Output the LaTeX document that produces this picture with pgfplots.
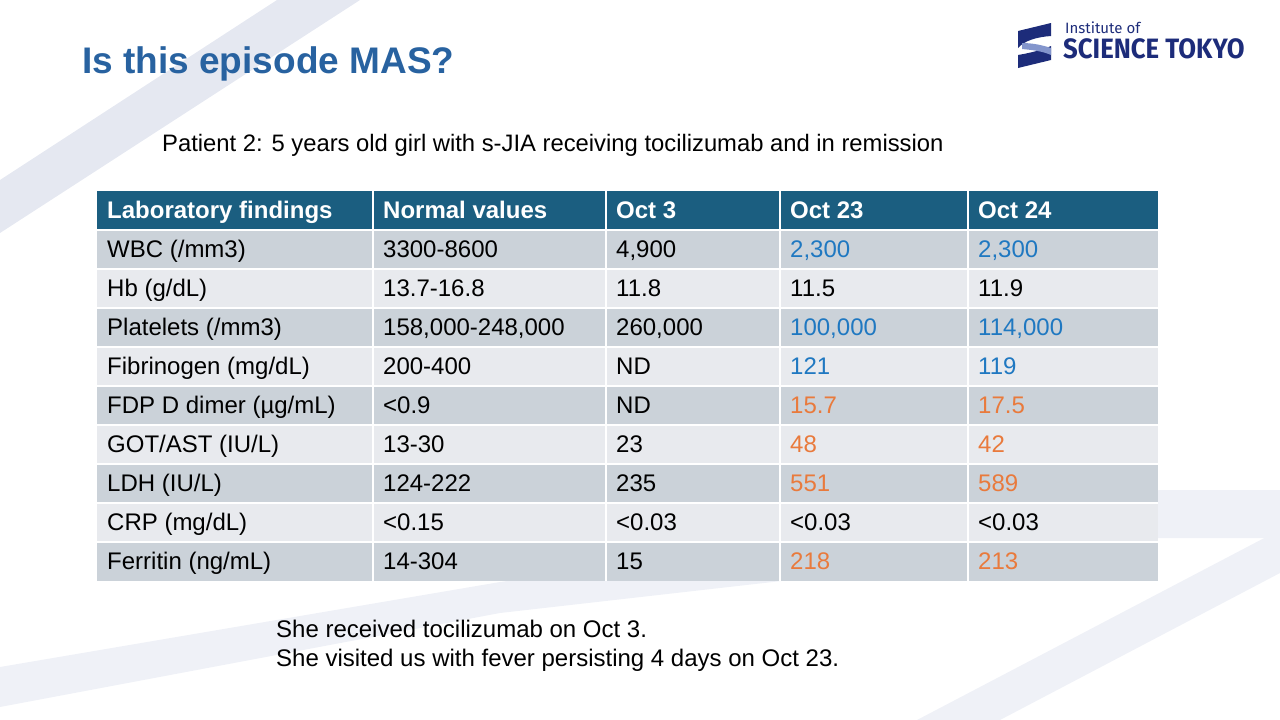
\documentclass[border=0pt]{standalone}
\usepackage{pgfplots}
\pgfplotsset{compat=1.18}
\usepackage{fontspec}
\setmainfont{Liberation Sans}
\newfontfamily\logofont{Fira Sans}
\definecolor{hdr}{HTML}{1B5E80}
\definecolor{rowdark}{HTML}{CBD2D9}
\definecolor{rowlight}{HTML}{E8EAEE}
\definecolor{valblue}{HTML}{1F78C1}
\definecolor{valorange}{HTML}{E97A3C}
\definecolor{titleblue}{HTML}{2862A0}
\definecolor{bandA}{HTML}{E5E8F1}
\definecolor{bandB}{HTML}{EFF1F7}
\definecolor{logonavy}{HTML}{1D2C7A}
\definecolor{logolight}{HTML}{8395CC}
\newcommand\tabfont{\fontsize{24}{28}\selectfont}
% #1 top y, #2 fill, #3..#7 texts, #8 colour col4, #9 colour col5
\newcommand\labrow[9]{%
  \fill[#2] (97,#1) rectangle (1158,{#1+39});
  \draw[white,line width=2pt] (97,#1) -- (1158,#1);
  \draw[white,line width=2pt] (373,#1) -- (373,{#1+39});
  \draw[white,line width=2pt] (606,#1) -- (606,{#1+39});
  \draw[white,line width=2pt] (780,#1) -- (780,{#1+39});
  \draw[white,line width=2pt] (968,#1) -- (968,{#1+39});
  \node[anchor=base west,inner sep=0pt,font=\tabfont,text=black] at (107,{#1+27.5}) {#3};
  \node[anchor=base west,inner sep=0pt,font=\tabfont,text=black] at (383,{#1+27.5}) {#4};
  \node[anchor=base west,inner sep=0pt,font=\tabfont,text=black] at (616,{#1+27.5}) {#5};
  \node[anchor=base west,inner sep=0pt,font=\tabfont,text=#8] at (790,{#1+27.5}) {#6};
  \node[anchor=base west,inner sep=0pt,font=\tabfont,text=#9] at (978,{#1+27.5}) {#7};
}
\begin{document}
\begin{tikzpicture}
\begin{axis}[width=1280pt,height=720pt,scale only axis,
  xmin=0,xmax=1280,ymin=0,ymax=720,y dir=reverse,hide axis,clip=false]
\addplot[draw=none] coordinates {(0,0) (1280,720)};
% background bands
\fill[bandA] (0,180) -- (277,0) -- (360,0) -- (0,233) -- cycle;
\fill[bandB] (0,667) -- (500,582) -- (1160,490) -- (1280,490) -- (1280,538) -- (1160,538) -- (500,613) -- (0,707) -- cycle;
\fill[bandB] (917,720) -- (1270,535) -- (1280,535) -- (1280,573) -- (1000,720) -- cycle;
% title
\node[anchor=base west,inner sep=0pt,font=\fontsize{37}{44}\selectfont\bfseries,text=titleblue] at (82,73) {Is this episode MAS?};
% logo
\fill[logonavy] (1018,31) -- (1051,23) -- (1051,36) .. controls (1036,37) and (1024,41) .. (1018,48) -- cycle;
\fill[logonavy] (1018,55) .. controls (1030,53) and (1042,50) .. (1051,46) -- (1051,60) -- (1018,68) -- cycle;
\fill[logolight] (1022,43) .. controls (1032,43) and (1042,45) .. (1051,48) -- (1051,55) .. controls (1042,51) and (1032,50) .. (1022,49) -- cycle;
\node[anchor=base west,inner sep=0pt,font=\logofont\fontsize{15}{18}\selectfont,text=logonavy] at (1065,34) {Institute of};
\node[anchor=base west,inner sep=0pt,font=\logofont\bfseries\fontsize{28}{32}\selectfont,text=logonavy,xscale=0.92] at (1063,58) {SCIENCE TOKYO};
% subtitle
\node[anchor=base west,inner sep=0pt,font=\fontsize{23.8}{28}\selectfont] at (162,151) {Patient 2: 5 years old girl with s-JIA receiving tocilizumab and in remission};
% table header
\fill[hdr] (97,191) rectangle (1158,230);
\draw[white,line width=2pt] (373,191) -- (373,230);
\draw[white,line width=2pt] (606,191) -- (606,230);
\draw[white,line width=2pt] (780,191) -- (780,230);
\draw[white,line width=2pt] (968,191) -- (968,230);
\node[anchor=base west,inner sep=0pt,font=\tabfont\bfseries,text=white] at (107,218) {Laboratory findings};
\node[anchor=base west,inner sep=0pt,font=\tabfont\bfseries,text=white] at (383,218) {Normal values};
\node[anchor=base west,inner sep=0pt,font=\tabfont\bfseries,text=white] at (616,218) {Oct 3};
\node[anchor=base west,inner sep=0pt,font=\tabfont\bfseries,text=white] at (790,218) {Oct 23};
\node[anchor=base west,inner sep=0pt,font=\tabfont\bfseries,text=white] at (978,218) {Oct 24};
% table rows
\labrow{230}{rowdark}{WBC (/mm3)}{3300-8600}{4,900}{2,300}{2,300}{valblue}{valblue}
\labrow{269}{rowlight}{Hb (g/dL)}{13.7-16.8}{11.8}{11.5}{11.9}{black}{black}
\labrow{308}{rowdark}{Platelets (/mm3)}{158,000-248,000}{260,000}{100,000}{114,000}{valblue}{valblue}
\labrow{347}{rowlight}{Fibrinogen (mg/dL)}{200-400}{ND}{121}{119}{valblue}{valblue}
\labrow{386}{rowdark}{FDP D dimer (µg/mL)}{<0.9}{ND}{15.7}{17.5}{valorange}{valorange}
\labrow{425}{rowlight}{GOT/AST (IU/L)}{13-30}{23}{48}{42}{valorange}{valorange}
\labrow{464}{rowdark}{LDH (IU/L)}{124-222}{235}{551}{589}{valorange}{valorange}
\labrow{503}{rowlight}{CRP (mg/dL)}{<0.15}{<0.03}{<0.03}{<0.03}{black}{black}
\labrow{542}{rowdark}{Ferritin (ng/mL)}{14-304}{15}{218}{213}{valorange}{valorange}
% bottom notes
\node[anchor=base west,inner sep=0pt,font=\tabfont] at (276,637) {She received tocilizumab on Oct 3.};
\node[anchor=base west,inner sep=0pt,font=\tabfont] at (276,666) {She visited us with fever persisting 4 days on Oct 23.};
\end{axis}
\end{tikzpicture}
\end{document}
